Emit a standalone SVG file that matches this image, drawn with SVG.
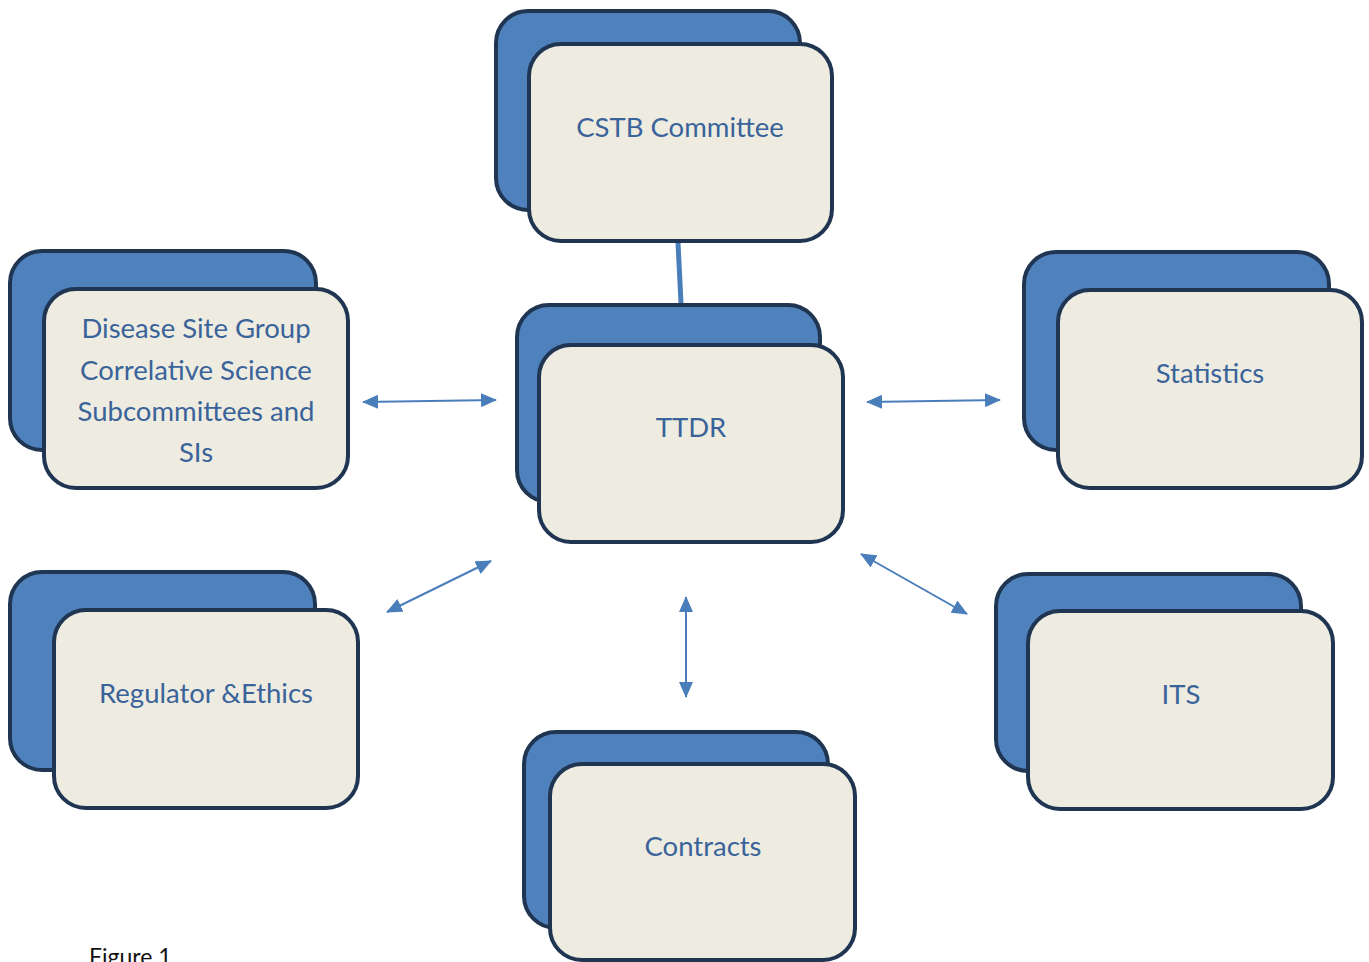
<svg xmlns="http://www.w3.org/2000/svg" width="1369" height="962" viewBox="0 0 1369 962">
  <style>
    .back { fill: #4f81bd; stroke: #1f3552; stroke-width: 4; }
    .front { fill: #eeece1; stroke: #1f3552; stroke-width: 4; }
    .label { font-family: Lato, "Open Sans", "Liberation Sans", sans-serif; font-size: 27.5px; fill: #3a639a; text-anchor: middle; }
    .link { stroke: #4a7ebb; stroke-width: 2; fill: none; marker-start: url(#tip); marker-end: url(#tip); }
    .caption { font-family: Lato, "Liberation Sans", sans-serif; font-size: 23px; fill: #111; }
  </style>
  <defs>
    <marker id="tip" viewBox="0 0 16 14" refX="15" refY="7" markerWidth="16" markerHeight="14" markerUnits="userSpaceOnUse" orient="auto-start-reverse">
      <path d="M0,0 L16,7 L0,14 Z" fill="#4a7ebb"/>
    </marker>
  </defs>
  <rect width="1369" height="962" fill="#ffffff"/>

  <g id="connectors">
    <line x1="678" y1="243" x2="681" y2="303" stroke="#4a7ebb" stroke-width="5"/>
    <line class="link" x1="363" y1="402" x2="496" y2="400"/>
    <line class="link" x1="867" y1="402" x2="1000" y2="400"/>
    <line class="link" x1="387" y1="612" x2="491" y2="561"/>
    <line class="link" x1="686" y1="597" x2="686" y2="697"/>
    <line class="link" x1="861" y1="554" x2="967" y2="614"/>
  </g>

  <g id="cstb">
    <rect class="back" x="496" y="11" width="304" height="199" rx="32"/>
    <rect class="front" x="529" y="44" width="303" height="197" rx="32"/>
    <text class="label" x="680" y="137">CSTB Committee</text>
  </g>

  <g id="ttdr">
    <rect class="back" x="517" y="305" width="303" height="197" rx="32"/>
    <rect class="front" x="539" y="345" width="304" height="197" rx="32"/>
    <text class="label" x="691" y="437">TTDR</text>
  </g>

  <g id="disease">
    <rect class="back" x="10" y="251" width="306" height="199" rx="32"/>
    <rect class="front" x="44" y="289" width="304" height="199" rx="32"/>
    <text class="label" x="196" y="338">Disease Site Group</text>
    <text class="label" x="196" y="380">Correlative Science</text>
    <text class="label" x="196" y="421">Subcommittees and</text>
    <text class="label" x="196" y="462">SIs</text>
  </g>

  <g id="statistics">
    <rect class="back" x="1024" y="252" width="305" height="198" rx="32"/>
    <rect class="front" x="1058" y="290" width="304" height="198" rx="32"/>
    <text class="label" x="1210" y="383">Statistics</text>
  </g>

  <g id="regulator">
    <rect class="back" x="10" y="572" width="305" height="198" rx="32"/>
    <rect class="front" x="54" y="610" width="304" height="198" rx="32"/>
    <text class="label" x="206" y="703">Regulator &amp;Ethics</text>
  </g>

  <g id="its">
    <rect class="back" x="996" y="574" width="305" height="197" rx="32"/>
    <rect class="front" x="1028" y="611" width="305" height="198" rx="32"/>
    <text class="label" x="1181" y="704">ITS</text>
  </g>

  <g id="contracts">
    <rect class="back" x="524" y="732" width="304" height="196" rx="32"/>
    <rect class="front" x="550" y="764" width="305" height="196" rx="32"/>
    <text class="label" x="703" y="856">Contracts</text>
  </g>

  <text class="caption" x="89" y="965">Figure 1</text>
</svg>
